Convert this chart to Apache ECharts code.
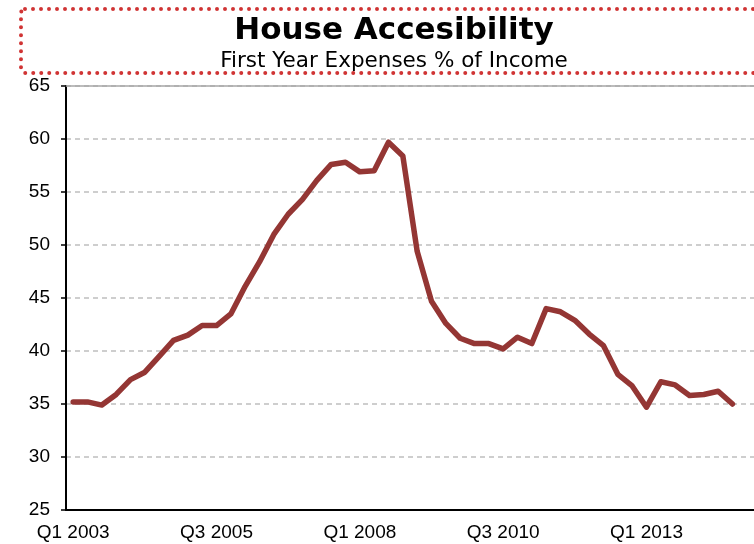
<!DOCTYPE html>
<html>
<head>
<meta charset="utf-8">
<script src="https://cdn.jsdelivr.net/npm/echarts@6/dist/echarts.min.js"></script>
<style>
  html, body { margin: 0; padding: 0; background: #fff; }
  #chart { width: 754px; height: 544px; }
</style>
</head>
<body>
<div id="chart"></div>
<script>
// Quarterly categories, Q1 2003 through Q4 2014
const quarters = [
  'Q1 2003','Q2 2003','Q3 2003','Q4 2003',
  'Q1 2004','Q2 2004','Q3 2004','Q4 2004',
  'Q1 2005','Q2 2005','Q3 2005','Q4 2005',
  'Q1 2006','Q2 2006','Q3 2006','Q4 2006',
  'Q1 2007','Q2 2007','Q3 2007','Q4 2007',
  'Q1 2008','Q2 2008','Q3 2008','Q4 2008',
  'Q1 2009','Q2 2009','Q3 2009','Q4 2009',
  'Q1 2010','Q2 2010','Q3 2010','Q4 2010',
  'Q1 2011','Q2 2011','Q3 2011','Q4 2011',
  'Q1 2012','Q2 2012','Q3 2012','Q4 2012',
  'Q1 2013','Q2 2013','Q3 2013','Q4 2013',
  'Q1 2014','Q2 2014','Q3 2014','Q4 2014'
];

// First-year housing expenses as % of income
const expensesPct = [
  35.2, 35.2, 34.9, 35.9, 37.3, 38.0, 39.5, 41.0,
  41.5, 42.4, 42.4, 43.5, 46.1, 48.4, 51.0, 52.9,
  54.3, 56.1, 57.6, 57.8, 56.9, 57.0, 59.7, 58.4,
  49.4, 44.7, 42.6, 41.2, 40.7, 40.7, 40.2, 41.3,
  40.7, 44.0, 43.7, 42.9, 41.6, 40.5, 37.8, 36.7,
  34.7, 37.1, 36.8, 35.8, 35.9, 36.2, 35.0, null
];

const yTicks = { min: 25, max: 65, step: 5 };

const titleText = 'House Accesibility';
const subtitleText = 'First Year Expenses % of Income';

const chart = echarts.init(document.getElementById('chart'), null, { renderer: 'canvas' });

const catWidth = 14.43;
const gridLeft = 66;

chart.setOption({
  animation: false,
  backgroundColor: '#ffffff',
  graphic: [
    {
      type: 'rect',
      shape: { x: 21, y: 9, width: 770, height: 64, r: 4 },
      style: {
        fill: 'none',
        stroke: '#d03434',
        lineWidth: 4,
        lineDash: [0, 8],
        lineCap: 'round'
      },
      z: 10
    },
    {
      type: 'text',
      x: 394, y: 31,
      style: {
        text: titleText,
        font: 'bold 31px "DejaVu Sans"',
        fill: '#000',
        align: 'center',
        verticalAlign: 'middle'
      },
      z: 11
    },
    {
      type: 'text',
      x: 394, y: 61,
      style: {
        text: subtitleText,
        font: '21.5px "DejaVu Sans"',
        fill: '#000',
        align: 'center',
        verticalAlign: 'middle'
      },
      z: 11
    }
  ],
  grid: {
    left: gridLeft,
    top: 86,
    bottom: 34,
    width: catWidth * quarters.length
  },
  xAxis: [
    {
      type: 'category',
      data: quarters,
      boundaryGap: true,
      axisLine: { lineStyle: { color: '#000', width: 2 } },
      axisTick: { interval: 9, length: 5, lineStyle: { color: '#000', width: 1.5 } },
      axisLabel: {
        interval: 9,
        margin: 13,
        color: '#000',
        fontSize: 19,
        fontFamily: '"Liberation Sans", Arial, sans-serif'
      },
      splitLine: { show: false }
    },
    {
      type: 'category',
      data: quarters,
      position: 'top',
      axisLine: { lineStyle: { color: '#a6a6a6', width: 1.5 } },
      axisTick: { show: false },
      axisLabel: { show: false },
      splitLine: { show: false }
    }
  ],
  yAxis: {
    type: 'value',
    min: yTicks.min,
    max: yTicks.max,
    interval: yTicks.step,
    axisLine: { show: true, lineStyle: { color: '#000', width: 2 } },
    axisTick: { show: true, length: 5, lineStyle: { color: '#000', width: 1.5 } },
    axisLabel: {
      margin: 16,
      color: '#000',
      fontSize: 19,
      fontFamily: '"Liberation Sans", Arial, sans-serif'
    },
    splitLine: {
      show: true,
      lineStyle: { color: '#bfbfbf', width: 1.5, type: [5, 4] }
    }
  },
  series: [
    {
      type: 'line',
      data: expensesPct,
      symbol: 'none',
      connectNulls: false,
      lineStyle: { color: '#943634', width: 5.5, join: 'round', cap: 'round' },
      z: 5
    }
  ]
});
</script>
</body>
</html>
